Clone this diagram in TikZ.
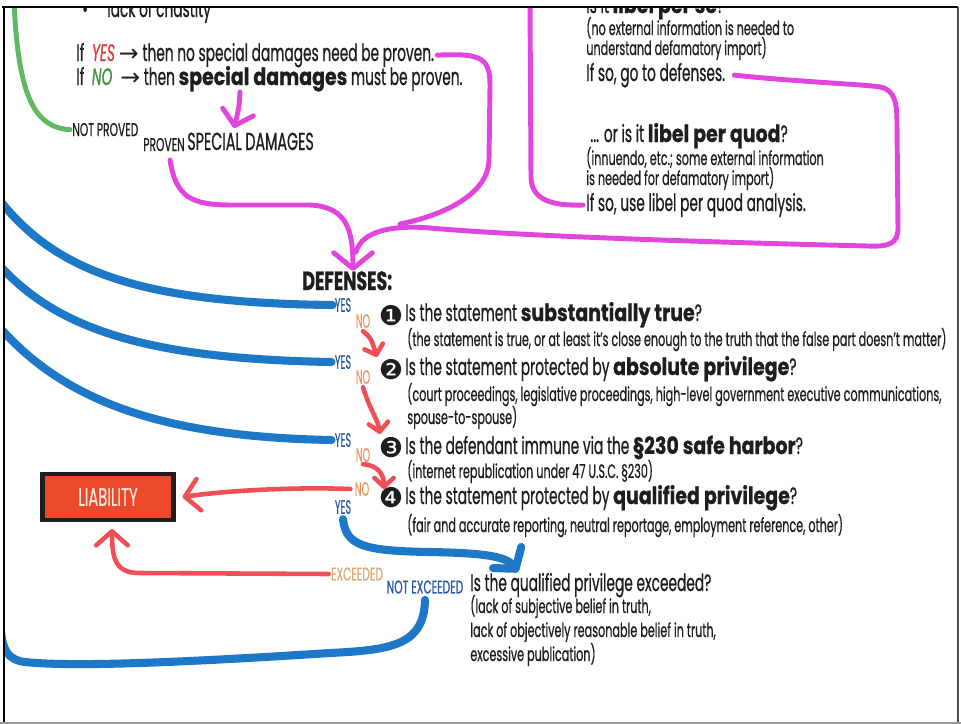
\documentclass[tikz,border=0pt]{standalone}
\usepackage{fontspec}
\setmainfont{Poppins}[FakeStretch=0.58, FakeBold=0.6]
\newfontfamily\heavy{Poppins}[FakeStretch=0.8, FakeBold=0.7]
\newfontfamily\heavycond{Poppins}[FakeStretch=0.66, FakeBold=0.7]
\newfontfamily\narrow{Poppins}[FakeStretch=0.5, FakeBold=0.4]
\newfontfamily\dv{DejaVu Sans}
\usetikzlibrary{arrows.meta}
\definecolor{ink}{RGB}{30,30,30}
\definecolor{mag}{RGB}{226,68,222}
\definecolor{lineblue}{RGB}{30,120,200}
\definecolor{linered}{RGB}{240,80,85}
\definecolor{linegreen}{RGB}{95,185,100}
\definecolor{liabfill}{RGB}{236,72,42}
\definecolor{yesblue}{RGB}{40,90,160}
\definecolor{noorange}{RGB}{236,150,90}
\definecolor{exctan}{RGB}{222,170,120}
\definecolor{yesred}{RGB}{220,60,60}
\definecolor{nogreen}{RGB}{60,150,70}
\newcommand{\HV}[1]{{\heavy\bfseries #1}}
\tikzset{
  maintxt/.style={inner sep=0pt, anchor=base west, text=ink, font=\fontsize{13.5}{15}\selectfont},
  smalltxt/.style={inner sep=0pt, anchor=base west, text=ink, font=\fontsize{11}{13}\selectfont},
  lbltxt/.style={inner sep=0pt, font=\narrow\fontsize{11}{12}\selectfont},
  captxt/.style={inner sep=0pt, anchor=base west, font=\fontsize{10.5}{12}\selectfont},
  numtxt/.style={inner sep=0pt, text=ink, font=\dv\fontsize{15.5}{16}\selectfont},
  magline/.style={draw=mag, line width=2.8pt, line cap=round, line join=round},
  blueline/.style={draw=lineblue, line width=4.6pt, line cap=round, line join=round},
  redline/.style={draw=linered, line width=2.6pt, line cap=round, line join=round},
  greenline/.style={draw=linegreen, line width=2.8pt, line cap=round},
  bigbarb/.style={-{Straight Barb[length=9pt,width=22pt,round]}},
  midbarb/.style={-{Straight Barb[length=8pt,width=18pt,round]}},
  smallbarb/.style={-{Straight Barb[length=5pt,width=11pt,round]}}
}
\begin{document}
\begin{tikzpicture}[x=0.02cm,y=-0.02cm]
\useasboundingbox[fill=white] (0,0) rectangle (961,724);
\begin{scope}
\clip (4,8) rectangle (958,722);

% ---------- top left ----------
\node[maintxt] (bul) at (82,17) {•};
\node[maintxt] (chast) at (107,17) {lack of chastity};
\node[maintxt] (ifyes) at (76,61) {If \,\textcolor{yesred}{\itshape YES}\,{\dv→} then no special damages need be proven.};
\node[maintxt] (ifno) at (76,85) {If \,\textcolor{nogreen}{\itshape NO}\,\,{\dv→} then \HV{special damages} must be proven.};
\node[captxt, text=ink] (notproved) at (72,136) {NOT PROVED};
\node[captxt, text=ink] (proven) at (143,151) {PROVEN};
\node[maintxt, font=\fontsize{14}{16}\selectfont] (specdam) at (187,150) {SPECIAL DAMAGES};

% ---------- top right ----------
\node[maintxt] (perse) at (586,13) {is it \HV{libel per se}?};
\node[smalltxt] (perse1) at (586,35) {(no external information is needed to};
\node[smalltxt] (perse2) at (586,55) {understand defamatory import)};
\node[maintxt] (perse3) at (586,81) {If so, go to defenses.};
\node[maintxt] (perquod) at (590,142) {... or is it \HV{libel per quod}?};
\node[smalltxt] (perquod1) at (586,165) {(innuendo, etc.; some external information};
\node[smalltxt] (perquod2) at (586,185) {is needed for defamatory import)};
\node[maintxt] (perquod3) at (586,211) {If so, use libel per quod analysis.};

% ---------- defenses ----------
\node[maintxt, font=\heavycond\bfseries\fontsize{15}{16}\selectfont] (def) at (302,290) {DEFENSES:};

\node[lbltxt, text=yesblue] (yes1) at (343,305) {YES};
\node[lbltxt, text=noorange] (no1) at (363,321) {NO};
\node[numtxt] (n1) at (391,316) {❶};
\node[maintxt] (q1) at (405,321) {Is the statement \HV{substantially true}?};
\node[smalltxt] (p1) at (407,346) {(the statement is true, or at least it’s close enough to the truth that the false part doesn’t matter)};

\node[lbltxt, text=yesblue] (yes2) at (343,362) {YES};
\node[lbltxt, text=noorange] (no2) at (363,377) {NO};
\node[numtxt] (n2) at (391,370) {❷};
\node[maintxt] (q2) at (405,375) {Is the statement protected by \HV{absolute privilege}?};
\node[smalltxt] (p2) at (407,401) {(court proceedings, legislative proceedings, high-level government executive communications,};
\node[smalltxt] (p2b) at (407,424) {spouse-to-spouse)};

\node[lbltxt, text=yesblue] (yes3) at (343,440) {YES};
\node[lbltxt, text=noorange] (no3) at (363,455) {NO};
\node[numtxt] (n3) at (391,448) {❸};
\node[maintxt] (q3) at (405,454) {Is the defendant immune via the \HV{§230 safe harbor}?};
\node[smalltxt] (p3) at (407,478) {(internet republication under 47 U.S.C. §230)};

\node[lbltxt, text=noorange] (no4) at (362,489) {NO};
\node[lbltxt, text=yesblue] (yes4) at (343,507) {YES};
\node[numtxt] (n4) at (391,498) {❹};
\node[maintxt] (q4) at (405,504) {Is the statement protected by \HV{qualified privilege}?};
\node[smalltxt] (p4) at (407,532) {(fair and accurate reporting, neutral reportage, employment reference, other)};

\node[draw=ink, line width=2.4pt, fill=liabfill, minimum width=2.62cm, minimum height=0.92cm, inner sep=0pt,
      text={rgb,255:red,255;green,228;blue,218}, font=\fontsize{14.5}{16}\selectfont] (liab) at (108,497) {LIABILITY};

\node[captxt, text=exctan, anchor=center] (exc) at (357,574) {EXCEEDED};
\node[captxt, text=yesblue, anchor=center] (notexc) at (425,587) {NOT EXCEEDED};
\node[maintxt] (q5) at (470,591) {Is the qualified privilege exceeded?};
\node[smalltxt] (p5a) at (470,613) {(lack of subjective belief in truth,};
\node[smalltxt] (p5b) at (470,637) {lack of objectively reasonable belief in truth,};
\node[smalltxt] (p5c) at (470,661) {excessive publication)};

% ---------- coordinates ----------
\coordinate (gtop) at (14,2);
\coordinate (sdtail) at (240,92);
\coordinate (sdhead) at (234,128);
\coordinate (pv0) at (170,160);
\coordinate (defin) at (353,271);
\coordinate (pqtop) at (530,2);
\coordinate (bl1) at (2,203);
\coordinate (bl2) at (2,268);
\coordinate (bl3) at (2,330);
\coordinate (bl4) at (1,632);
\coordinate (n2in) at (377,357);
\coordinate (n3in) at (380,434);
\coordinate (n4in) at (384,489);
\coordinate (q5in) at (518,572);
\coordinate (liabin) at (112,529);

% ---------- green ----------
\draw[greenline] (gtop) .. controls (18,85) and (30,128) .. ([xshift=-0.04cm]notproved.west);

% ---------- magenta ----------
\draw[magline, midbarb] (sdtail) .. controls (239,108) .. (sdhead);
\draw[magline] ([xshift=0.06cm]ifyes.east) .. controls (482,53) and (490,58) .. (490,86) -- (489,160)
      .. controls (488,196) and (440,216) .. (400,224);
\draw[magline] ([xshift=0.18cm]perse3.east) .. controls (800,82) and (860,84) .. (880,87)
      .. controls (896,90) and (897,105) .. (897,125) -- (898,228)
      .. controls (898,243) and (890,247) .. (868,246)
      .. controls (700,242) and (520,236) .. (430,228) .. controls (395,225) and (362,230) .. (356,252);
\draw[magline] (pqtop) -- (531,178) .. controls (532,200) and (552,206) .. ([xshift=-0.06cm]perquod3.west);
\draw[magline, bigbarb] (pv0) .. controls (176,198) and (192,205) .. (232,205) -- (310,205)
      .. controls (346,207) and (353,228) .. (defin);

% ---------- blue ----------
\draw[blueline] (bl1) .. controls (60,275) and (150,303) .. ([xshift=-0.04cm]yes1.west);
\draw[blueline] (bl2) .. controls (60,330) and (150,359) .. ([xshift=-0.06cm]yes2.west);
\draw[blueline] (bl3) .. controls (70,405) and (170,437) .. ([xshift=-0.06cm]yes3.west);
\draw[blueline] ([yshift=-0.12cm]notexc.south) .. controls (424,645) and (392,650) .. (330,653)
      .. controls (220,660) and (80,668) .. (25,662) .. controls (8,660) and (3,650) .. (bl4);
\draw[blueline, -{Straight Barb[length=8pt,width=20pt,round]}] ([yshift=-0.1cm]yes4.south)
      .. controls (346,545) and (362,551) .. (430,552) .. controls (482,553) and (506,556) .. (q5in);

% ---------- red ----------
\draw[redline, smallbarb] ([yshift=-0.06cm]no1.south) .. controls (371,338) .. (n2in);
\draw[redline, smallbarb] ([yshift=-0.06cm]no2.south) .. controls (370,410) and (378,420) .. (n3in);
\draw[redline, smallbarb] ([yshift=-0.04cm]no3.south) .. controls (379,465) and (384,476) .. (n4in);
\draw[redline, midbarb] ([xshift=-0.08cm]no4.west) .. controls (300,487) and (230,490) .. ([xshift=0.14cm]liab.east);
\draw[redline, midbarb] ([xshift=-0.04cm]exc.west) -- (140,573) .. controls (116,573) and (112,560) .. (liabin);
\end{scope}

% ---------- frame ----------
\draw[line width=1.7pt, black] (2,7) -- (958,7);
\draw[line width=1.7pt, black] (4,7) -- (4,723);
\draw[line width=1.2pt, black!70] (958,7) -- (958,723);
\draw[line width=1.1pt, black!40] (0,722.7) -- (961,722.7);
\end{tikzpicture}
\end{document}
